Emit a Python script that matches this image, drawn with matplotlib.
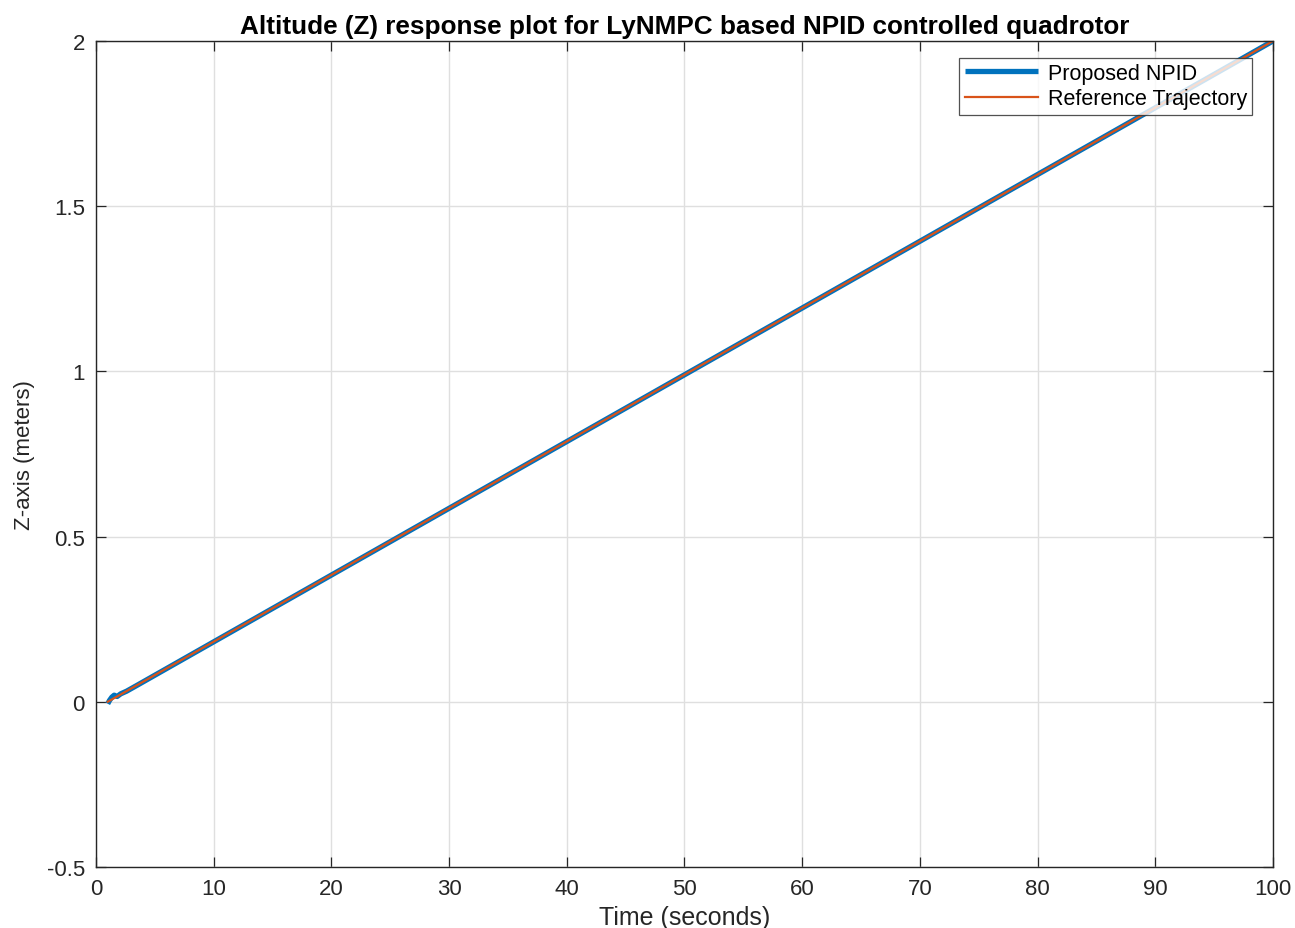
import matplotlib
matplotlib.use("Agg")
import matplotlib.pyplot as plt
from matplotlib.ticker import FuncFormatter

plt.rcParams['font.family'] = ['Liberation Sans', 'DejaVu Sans']

# altitude samples (time in s, z in m)
t_npid = [1.0, 1.15, 1.35, 1.55, 1.8, 2.1, 2.6, 3.5, 100.0]
z_npid = [-0.006, 0.004, 0.014, 0.020, 0.016, 0.024, 0.032, 0.050, 2.0]

t_ref = [1.0, 100.0]
z_ref = [0.0, 2.0]

x_ticks = list(range(0, 101, 10))
y_ticks = [-0.5, 0, 0.5, 1, 1.5, 2]

blue = '#0072BD'
orange = '#D95319'
axis_col = '#262626'

fig = plt.figure(figsize=(12.95, 9.29), dpi=100)
ax = fig.add_axes([0.0741, 0.0657, 0.9089, 0.8891])

ax.plot(t_npid, z_npid, color=blue, lw=3.8, label='Proposed NPID', solid_capstyle='butt')
ax.plot(t_ref, z_ref, color=orange, lw=1.6, label='Reference Trajectory')

ax.set_xlim(0, 100)
ax.set_ylim(-0.5, 2)
ax.set_xticks(x_ticks)
ax.set_yticks(y_ticks)
ax.yaxis.set_major_formatter(FuncFormatter(lambda v, p: f'{v:g}'))

ax.grid(True, color='#dfdfdf', lw=1.0)
ax.set_axisbelow(True)
ax.tick_params(direction='in', top=True, right=True, length=7, width=0.9,
               colors=axis_col, labelsize=16, pad=8)
for s in ax.spines.values():
    s.set_color(axis_col)
    s.set_linewidth(1.0)

ax.set_title('Altitude (Z) response plot for LyNMPC based NPID controlled quadrotor',
             fontsize=18.8, fontweight='bold', pad=6)
ax.set_xlabel('Time (seconds)', fontsize=18, color=axis_col, labelpad=4)
ax.set_ylabel('Z-axis (meters)', fontsize=16, color=axis_col, labelpad=8)

leg = ax.legend(loc='upper right', bbox_to_anchor=(0.9825, 0.98), fontsize=15.5,
                frameon=True, fancybox=False, edgecolor=axis_col,
                borderpad=0.25, handlelength=3.4, handletextpad=0.45,
                labelspacing=0.2, borderaxespad=0)
leg.get_frame().set_linewidth(0.9)

fig.savefig('out.png', dpi=100)
